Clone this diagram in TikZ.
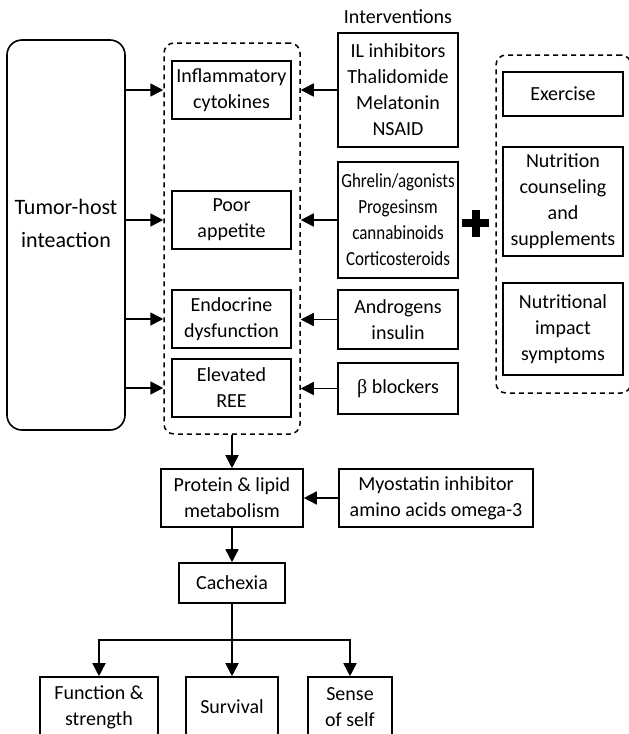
\documentclass[tikz,border=0pt]{standalone}
\usepackage{fontspec}
\setmainfont{Carlito}
\newfontfamily\narrowfont[FakeStretch=0.85]{Carlito}
\newfontfamily\betafont{Liberation Serif}
\usetikzlibrary{arrows.meta}

\tikzset{
  box/.style={draw, line width=1.6pt, align=center, inner sep=1pt, font=\fontsize{20}{26}\selectfont},
  grp/.style={draw, line width=1.5pt, dash pattern=on 5pt off 4pt, rounded corners=10pt},
  arr/.style={line width=1.6pt, -{Triangle[length=13pt,width=13pt]}},
}

\begin{document}
\begin{tikzpicture}[x=1pt,y=-1pt]
\useasboundingbox (0,0) rectangle (629,734);

\node[box, rounded corners=15pt, minimum width=118pt, minimum height=390pt] (tumor) at (66,235) {};
\node[font=\fontsize{22}{33}\selectfont, align=center] (tumortext) at (66,223) {Tumor-host\\inteaction};

\node[grp, minimum width=136pt, minimum height=391pt] (effects) at (232,238.5) {};
\node[box, minimum width=119pt, minimum height=58pt] (cytokines) at (231.5,90) {Inflammatory\\cytokines};
\node[box, minimum width=119pt, minimum height=58pt] (appetite) at (231.5,220) {Poor\\appetite};
\node[box, minimum width=119pt, minimum height=58pt] (endocrine) at (231.5,319) {Endocrine\\dysfunction};
\node[box, minimum width=119pt, minimum height=58pt] (ree) at (231.5,388) {Elevated\\REE};

\node[font=\fontsize{20}{24}\selectfont] (interv) at (398,17) {Interventions};
\node[box, minimum width=120pt, minimum height=114pt] (ilinh) at (398,90) {IL inhibitors\\Thalidomide\\Melatonin\\NSAID};
\node[box, minimum width=120pt, minimum height=116pt, font=\fontsize{20}{26}\narrowfont] (ghrelin) at (398,220) {Ghrelin/agonists\\Progesinsm\\cannabinoids\\Corticosteroids};
\node[box, minimum width=120pt, minimum height=59pt] (androgens) at (398,319.5) {Androgens\\insulin};
\node[box, minimum width=120pt, minimum height=51pt] (blockers) at (398,388.5) {{\betafont β} blockers};

% plus sign
\draw[line width=8pt] (475.5,210) -- (475.5,237) (462,223) -- (489,223);

\node[grp, minimum width=135pt, minimum height=338pt] (support) at (563.5,224) {};
\node[box, minimum width=120pt, minimum height=44pt] (exercise) at (563,94) {Exercise};
\node[box, minimum width=120pt, minimum height=109pt] (nutrition) at (563,201.5) {Nutrition\\counseling\\and\\supplements};
\node[box, minimum width=120pt, minimum height=92pt] (impact) at (563,329) {Nutritional\\impact\\symptoms};

\node[box, minimum width=142pt, minimum height=58pt] (protein) at (232,498) {Protein \& lipid\\metabolism};
\node[box, minimum width=194pt, minimum height=58pt] (myostatin) at (436,498) {Myostatin inhibitor\\amino acids omega-3};
\node[box, minimum width=106pt, minimum height=40pt] (cachexia) at (232,583) {Cachexia};
\coordinate (split) at (232,640);

\node[box, minimum width=118pt, minimum height=60pt] (function) at (99,707) {Function \&\\strength};
\node[box, minimum width=92pt, minimum height=60pt] (survival) at (232,707) {Survival};
\node[box, minimum width=84pt, minimum height=60pt] (self) at (350,707) {Sense\\of self};

\foreach \n in {cytokines,appetite,endocrine,ree}
\draw[arr] (tumor.east |- \n) -- (effects.west |- \n);

\foreach \n in {ilinh,ghrelin,androgens,blockers}
\draw[arr] (\n.west) -- (effects.east |- \n);

\draw[arr] (effects.south) -- (protein.north);
\draw[arr] (myostatin.west) -- (protein.east);
\draw[arr] (protein.south) -- (cachexia.north);
\draw[line width=1.6pt] (cachexia.south) -- (split);
\foreach \to in {function,survival,self}
\draw[arr] (split) -| (\to.north);
\end{tikzpicture}
\end{document}
